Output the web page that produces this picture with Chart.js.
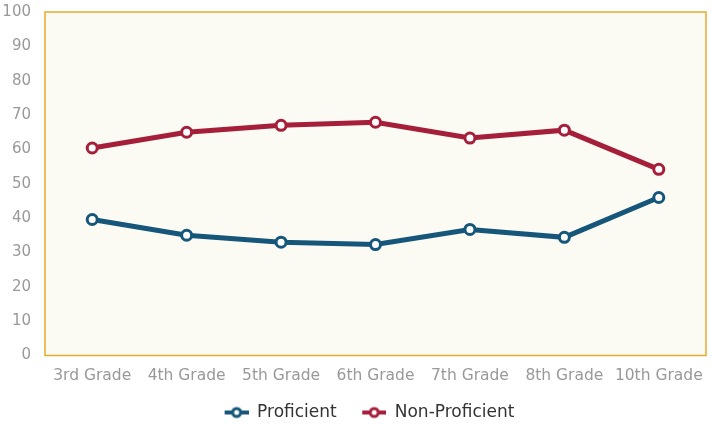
<!DOCTYPE html>
<html>
<head>
<meta charset="utf-8">
<script src="https://cdn.jsdelivr.net/npm/chart.js@4/dist/chart.umd.min.js"></script>
<style>
  html, body { margin: 0; padding: 0; background: #fff; }
  #wrap { width: 714px; height: 424px; }
</style>
</head>
<body>
<div id="wrap"><canvas id="gradeChart"></canvas></div>
<script>
// Chart data
const grades = ['3rd Grade', '4th Grade', '5th Grade', '6th Grade', '7th Grade', '8th Grade', '10th Grade'];
const proficient = [39.6, 35.0, 33.0, 32.3, 36.7, 34.4, 46.0];
const nonProficient = [60.4, 65.0, 67.0, 67.9, 63.3, 65.6, 54.2];
const yTicks = [0, 10, 20, 30, 40, 50, 60, 70, 80, 90, 100];

const BLUE = '#15567a';
const RED = '#a61f3a';
const FONT = "'DejaVu Sans', sans-serif";

// Line-with-circle marker for the legend (blank space on the left acts as item gap)
function legendMarker(color) {
    const c = document.createElement('canvas');
    c.width = 44;
    c.height = 14;
    const ctx = c.getContext('2d');
    ctx.strokeStyle = color;
    ctx.lineWidth = 4;
    ctx.beginPath();
    ctx.moveTo(20, 7);
    ctx.lineTo(44, 7);
    ctx.stroke();
    ctx.beginPath();
    ctx.arc(32, 7, 4, 0, Math.PI * 2);
    ctx.fillStyle = '#fff';
    ctx.fill();
    ctx.lineWidth = 3;
    ctx.stroke();
    return c;
}

// Cream plot background with orange frame
const plotFrame = {
    id: 'plotFrame',
    afterLayout(chart) {
        // nudge the legend a little to the right
        chart.legend.left += 5;
        chart.legend.right += 5;
    },
    beforeDatasetsDraw(chart) {
        const { ctx, chartArea: a } = chart;
        ctx.save();
        ctx.fillStyle = '#fcfbf3';
        ctx.fillRect(a.left, a.top, a.right - a.left, a.bottom - a.top);
        ctx.strokeStyle = '#e8aa2e';
        ctx.lineWidth = 1.5;
        ctx.strokeRect(a.left, a.top, a.right - a.left, a.bottom - a.top);
        ctx.restore();
    }
};

const markers = [legendMarker(BLUE), legendMarker(RED)];

new Chart(document.getElementById('gradeChart'), {
    type: 'line',
    data: {
        labels: grades,
        datasets: [
            {
                label: 'Proficient',
                data: proficient,
                borderColor: BLUE,
                backgroundColor: '#fff',
                borderWidth: 5,
                pointRadius: 5,
                pointBorderWidth: 3,
                pointBackgroundColor: '#fff',
                pointBorderColor: BLUE,
                tension: 0
            },
            {
                label: 'Non-Proficient',
                data: nonProficient,
                borderColor: RED,
                backgroundColor: '#fff',
                borderWidth: 5,
                pointRadius: 5,
                pointBorderWidth: 3,
                pointBackgroundColor: '#fff',
                pointBorderColor: RED,
                tension: 0
            }
        ]
    },
    options: {
        responsive: true,
        maintainAspectRatio: false,
        animation: false,
        layout: { padding: { top: 12, right: 5, left: 0, bottom: -7 } },
        plugins: {
            tooltip: { enabled: false },
            legend: {
                position: 'bottom',
                labels: {
                    usePointStyle: true,
                    pointStyleWidth: 44,
                    padding: 5.5,
                    color: '#333',
                    font: { family: FONT, size: 17 },
                    generateLabels(chart) {
                        return chart.data.datasets.map((ds, i) => ({
                            text: ds.label,
                            pointStyle: markers[i],
                            fillStyle: ds.borderColor,
                            strokeStyle: ds.borderColor,
                            fontColor: '#333',
                            lineWidth: 0,
                            hidden: false,
                            datasetIndex: i
                        }));
                    }
                }
            }
        },
        scales: {
            x: {
                offset: true,
                grid: { display: false },
                border: { display: false },
                ticks: { color: '#999', font: { family: FONT, size: 15.5 }, padding: 3, maxRotation: 0 },
                afterFit(axis) { axis.height = 43; }
            },
            y: {
                min: 0,
                max: 100,
                afterBuildTicks(axis) {
                    axis.ticks = yTicks.map(v => ({ value: v }));
                },
                grid: { display: false },
                border: { display: false },
                ticks: { color: '#999', font: { family: FONT, size: 15 }, padding: 6 },
                afterFit(axis) {
                    axis.width = 45;
                    axis.paddingTop = 0;
                    axis.paddingBottom = 0;
                }
            }
        }
    },
    plugins: [plotFrame]
});
</script>
</body>
</html>
